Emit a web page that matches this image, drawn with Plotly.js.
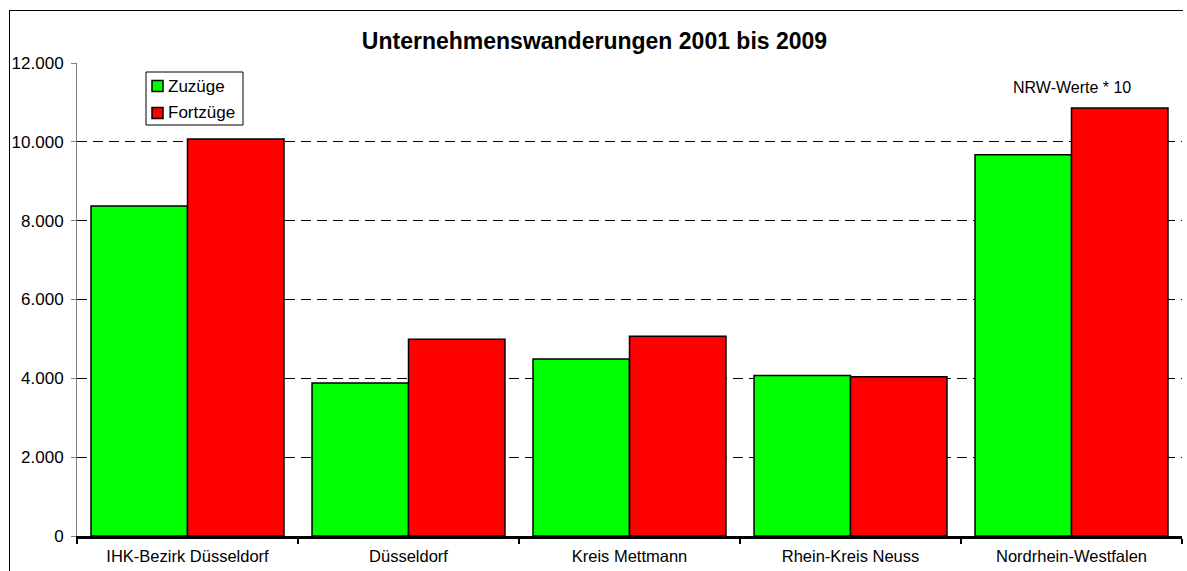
<!DOCTYPE html>
<html>
<head>
<meta charset="utf-8">
<script src="https://cdn.plot.ly/plotly-3.0.1.min.js"></script>
<style>
  html, body { margin: 0; padding: 0; background: #fff; overflow: hidden; }
  #frame { position: absolute; left: 9px; top: 10px; width: 1173px; height: 600px; border-left: 1px solid #000; border-top: 1px solid #000; }
  #plot { position: absolute; left: 0; top: 0; width: 1187px; height: 571px; }
</style>
</head>
<body>
<div id="frame"></div>
<div id="plot"></div>
<script>
// Regionen
const regionen = ["IHK-Bezirk Düsseldorf", "Düsseldorf", "Kreis Mettmann", "Rhein-Kreis Neuss", "Nordrhein-Westfalen"];
// Zuzüge / Fortzüge (NRW-Werte * 10)
const zuzuege = [8370, 3880, 4490, 4070, 9670];
const fortzuege = [10070, 4990, 5070, 4040, 10860];
const serien = ["Zuzüge", "Fortzüge"];
const farben = ["#00ff00", "#ff0000"];
const y_ticks = [0, 2000, 4000, 6000, 8000, 10000, 12000];

const font = "Liberation Sans, Arial, sans-serif";

// Plotbereich in Pixeln (für die Legende)
const W = 1187, H = 571;
const m = {l: 77, r: 5, t: 63, b: 35};
const px = x => (x - m.l) / (W - m.l - m.r);
const py = y => (H - m.b - y) / (H - m.t - m.b);

const data = [zuzuege, fortzuege].map((werte, i) => ({
    type: "bar",
    name: serien[i],
    x: regionen,
    y: werte,
    marker: {color: farben[i], line: {color: "#000", width: 1.5}},
    hoverinfo: "skip",
    showlegend: false
}));

// eigene Legende wie im Original (kleines Kästchen, enger Abstand)
const shapes = [{
    type: "rect", xref: "paper", yref: "paper",
    x0: px(146), x1: px(243), y0: py(125), y1: py(72),
    fillcolor: "#fff", line: {color: "#000", width: 1}
}];
const annotations = [];
serien.forEach((name, i) => {
    const yc = 86 + i * 27;
    shapes.push({
        type: "rect", xref: "paper", yref: "paper",
        x0: px(152), x1: px(163), y0: py(yc + 5.5), y1: py(yc - 5.5),
        fillcolor: farben[i], line: {color: "#000", width: 1.5}
    });
    annotations.push({
        xref: "paper", yref: "paper", x: px(166), y: py(yc),
        xanchor: "left", yanchor: "middle", showarrow: false,
        text: name, font: {family: font, size: 17, color: "#000"}
    });
});
annotations.push({
    x: regionen[4], y: 11366, xref: "x", yref: "y",
    text: "NRW-Werte * 10", showarrow: false,
    font: {family: font, size: 16, color: "#000"}
});

const layout = {
    width: W,
    height: H,
    paper_bgcolor: "rgba(0,0,0,0)",
    plot_bgcolor: "rgba(0,0,0,0)",
    margin: m,
    font: {family: font, color: "#000"},
    title: {
        text: "<b>Unternehmenswanderungen 2001 bis 2009</b>",
        font: {family: font, size: 23, color: "#000"},
        x: (m.l + (W - m.l - m.r) / 2 - 35) / W, xanchor: "center",
        y: 1 - 41 / H, yanchor: "middle"
    },
    barmode: "group",
    bargap: 0.127,
    bargroupgap: 0,
    separators: ",.",
    showlegend: false,
    xaxis: {
        type: "category",
        tickson: "boundaries",
        ticks: "outside", ticklen: 5, tickwidth: 2, tickcolor: "#000",
        showline: true, linecolor: "#000", linewidth: 2.5,
        showgrid: false,
        ticklabelstandoff: 4,
        tickfont: {family: font, size: 16.5, color: "#000"},
        fixedrange: true
    },
    yaxis: {
        range: [0, 12000],
        tickvals: y_ticks,
        tickformat: ",d",
        ticks: "outside", ticklen: 5, tickcolor: "#808080",
        showline: true, linecolor: "#808080", linewidth: 1,
        showgrid: true, gridcolor: "#000", gridwidth: 1, griddash: "10px,6px",
        zeroline: false,
        ticklabelstandoff: 4,
        tickfont: {family: font, size: 17, color: "#000"},
        fixedrange: true
    },
    shapes: shapes,
    annotations: annotations
};

Plotly.newPlot("plot", data, layout, {displayModeBar: false, staticPlot: true});
</script>
</body>
</html>
